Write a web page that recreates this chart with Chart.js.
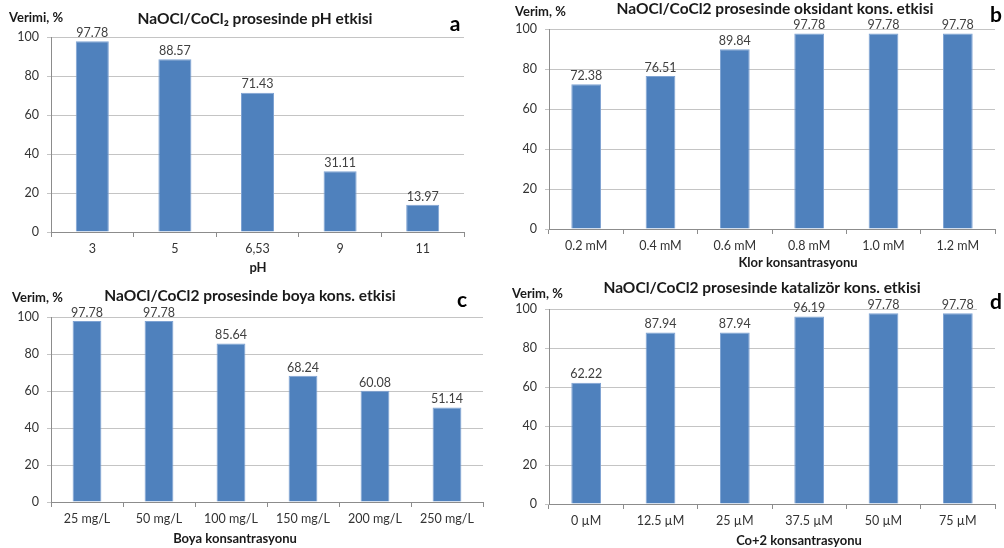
<!DOCTYPE html>
<html>
<head>
<meta charset="utf-8">
<script src="https://cdn.jsdelivr.net/npm/chart.js@4.4.1/dist/chart.umd.min.js"></script>
<style>
    html, body { margin: 0; padding: 0; background: #fff; }
    body { width: 1004px; height: 548px; position: relative; overflow: hidden; }
    .panel { position: absolute; }
</style>
</head>
<body>
<div class="panel" style="left:0;top:0"><canvas id="chartA" width="500" height="280"></canvas></div>
<div class="panel" style="left:500px;top:0"><canvas id="chartB" width="504" height="280"></canvas></div>
<div class="panel" style="left:0;top:280px"><canvas id="chartC" width="500" height="268"></canvas></div>
<div class="panel" style="left:500px;top:280px"><canvas id="chartD" width="504" height="268"></canvas></div>
<script>
// DATA
const phLabels = ['3', '5', '6,53', '9', '11'];
const phValues = [97.78, 88.57, 71.43, 31.11, 13.97];

const klorLabels = ['0.2 mM', '0.4 mM', '0.6 mM', '0.8 mM', '1.0 mM', '1.2 mM'];
const klorValues = [72.38, 76.51, 89.84, 97.78, 97.78, 97.78];

const boyaLabels = ['25 mg/L', '50 mg/L', '100 mg/L', '150 mg/L', '200 mg/L', '250 mg/L'];
const boyaValues = [97.78, 97.78, 85.64, 68.24, 60.08, 51.14];

const coLabels = ['0 µM', '12.5 µM', '25 µM', '37.5 µM', '50 µM', '75 µM'];
const coValues = [62.22, 87.94, 87.94, 96.19, 97.78, 97.78];

const yMin = 0, yMax = 100, yStep = 20;

const FONT = 'Lato, "Open Sans", sans-serif';
const BAR_COLOR = '#4F81BD';
const GRID_COLOR = '#C4C4C4';
const AXIS_COLOR = '#8C8C8C';

// DRAWS TITLE, Y LABEL, LETTER, X TITLE AND VALUE LABELS
const extrasPlugin = {
    id: 'extras',
    afterDraw(chart, args, opts) {
        const ctx = chart.ctx;
        ctx.save();

        // value labels over each bar
        ctx.fillStyle = '#404040';
        ctx.font = '12.5px ' + FONT;
        ctx.textAlign = 'center';
        ctx.textBaseline = 'bottom';
        chart.getDatasetMeta(0).data.forEach((bar, i) => {
            ctx.fillText(chart.data.datasets[0].data[i].toFixed(2), bar.x, bar.y - 2);
        });

        // letter with white patch over the top gridline
        ctx.fillStyle = '#fff';
        ctx.fillRect(opts.letter.x - 19, opts.letter.y - 12, 34, 24);
        ctx.fillStyle = '#000';
        ctx.font = 'bold 21px ' + FONT;
        ctx.textBaseline = 'middle';
        ctx.fillText(opts.letter.text, opts.letter.x, opts.letter.y);

        // title
        ctx.font = 'bold 15.5px ' + FONT;
        ctx.fillStyle = '#1a1a1a';
        ctx.fillText(opts.title.text, opts.title.x, opts.title.y);

        // x axis title
        ctx.font = 'bold 13px ' + FONT;
        ctx.fillText(opts.xTitle.text, opts.xTitle.x, opts.xTitle.y);

        // y label
        ctx.textAlign = 'left';
        ctx.font = 'bold 13px ' + FONT;
        ctx.fillText(opts.yLabel.text, opts.yLabel.x, opts.yLabel.y);

        ctx.restore();
    }
};

function makeBarChart(id, labels, values, geo, extras) {
    const canvas = document.getElementById(id);
    return new Chart(canvas, {
        type: 'bar',
        data: {
            labels: labels,
            datasets: [{
                data: values,
                backgroundColor: BAR_COLOR,
                borderColor: '#7FA3D3',
                borderWidth: 1,
                barPercentage: 0.4,
                categoryPercentage: 1.0
            }]
        },
        options: {
            responsive: false,
            animation: false,
            devicePixelRatio: 1,
            layout: {
                padding: { left: 0, top: geo.top, right: canvas.width - geo.right, bottom: 0 }
            },
            plugins: {
                legend: { display: false },
                tooltip: { enabled: false },
                extras: extras
            },
            scales: {
                x: {
                    grid: {
                        offset: true,
                        drawOnChartArea: false,
                        drawTicks: true,
                        tickLength: 5,
                        color: AXIS_COLOR
                    },
                    border: { display: true, color: AXIS_COLOR },
                    ticks: {
                        color: '#333',
                        font: { family: FONT, size: 12.5 },
                        padding: 4,
                        maxRotation: 0,
                        autoSkip: false
                    },
                    afterFit: (scale) => { scale.height = canvas.height - geo.bottom; }
                },
                y: {
                    min: yMin,
                    max: yMax,
                    grid: {
                        color: GRID_COLOR,
                        drawTicks: true,
                        tickLength: 4
                    },
                    border: { display: true, color: AXIS_COLOR },
                    ticks: {
                        stepSize: yStep,
                        color: '#333',
                        font: { family: FONT, size: 12.5 },
                        padding: 8
                    },
                    afterFit: (scale) => { scale.width = geo.left; }
                }
            }
        },
        plugins: [extrasPlugin]
    });
}

window.onload = () => {
    makeBarChart('chartA', phLabels, phValues,
        { left: 51, right: 464, top: 37, bottom: 232 },
        {
            title: { text: 'NaOCl/CoCl₂ prosesinde pH etkisi', x: 255, y: 19 },
            yLabel: { text: 'Verimi, %', x: 9, y: 18 },
            letter: { text: 'a', x: 455, y: 24 },
            xTitle: { text: 'pH', x: 258, y: 268 }
        });

    makeBarChart('chartB', klorLabels, klorValues,
        { left: 49, right: 495, top: 29, bottom: 229 },
        {
            title: { text: 'NaOCl/CoCl2 prosesinde oksidant kons. etkisi', x: 275, y: 9 },
            yLabel: { text: 'Verim, %', x: 15, y: 12 },
            letter: { text: 'b', x: 496, y: 15 },
            xTitle: { text: 'Klor konsantrasyonu', x: 298, y: 263 }
        });

    makeBarChart('chartC', boyaLabels, boyaValues,
        { left: 51, right: 483, top: 37, bottom: 222 },
        {
            title: { text: 'NaOCl/CoCl2 prosesinde boya kons. etkisi', x: 250, y: 16 },
            yLabel: { text: 'Verim, %', x: 12, y: 18 },
            letter: { text: 'c', x: 462, y: 20 },
            xTitle: { text: 'Boya konsantrasyonu', x: 235, y: 259 }
        });

    makeBarChart('chartD', coLabels, coValues,
        { left: 49, right: 495, top: 29, bottom: 224 },
        {
            title: { text: 'NaOCl/CoCl2 prosesinde katalizör kons. etkisi', x: 262, y: 8 },
            yLabel: { text: 'Verim, %', x: 12, y: 14 },
            letter: { text: 'd', x: 496, y: 22 },
            xTitle: { text: 'Co+2 konsantrasyonu', x: 299, y: 261 }
        });
};
</script>
</body>
</html>
